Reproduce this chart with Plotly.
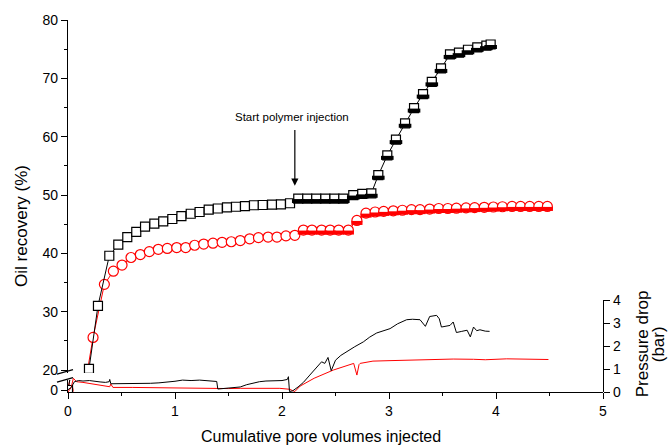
import plotly.graph_objects as go

# ---------------- data ----------------
# Oil recovery, case A (black squares)
rec_a_x = [0.0, 0.196, 0.28, 0.386, 0.47, 0.554, 0.638, 0.72, 0.807, 0.89, 0.975, 1.06, 1.147,
           1.23, 1.315, 1.40, 1.486, 1.57, 1.654, 1.738, 1.82, 1.907, 1.99, 2.075,
           2.152, 2.236, 2.32, 2.405, 2.49, 2.573, 2.666, 2.75, 2.835, 2.9, 2.984, 3.065,
           3.15, 3.234, 3.318, 3.40, 3.486, 3.57, 3.654, 3.738, 3.825, 3.91, 3.95]
rec_a_y = [0.0, 20.2, 31.0, 39.6, 41.5, 42.8, 43.7, 44.6, 45.1, 45.5, 45.9, 46.4, 46.8,
           47.1, 47.5, 47.7, 47.9, 48.0, 48.1, 48.25, 48.3, 48.35, 48.4, 48.6,
           49.4, 49.4, 49.4, 49.4, 49.4, 49.4, 50.0, 50.2, 50.3, 53.4, 56.8, 59.5,
           62.3, 64.9, 67.3, 69.4, 71.7, 74.1, 74.4, 74.9, 75.3, 75.6, 75.8]

# Oil recovery, case B (red circles)
rec_b_x = [0.0, 0.234, 0.34, 0.424, 0.505, 0.589, 0.676, 0.76, 0.844, 0.928, 1.016, 1.1, 1.184,
           1.268, 1.355, 1.44, 1.526, 1.61, 1.698, 1.78, 1.87, 1.953, 2.037, 2.12,
           2.2, 2.28, 2.37, 2.45, 2.53, 2.62, 2.70, 2.785, 2.87, 2.95, 3.04, 3.125, 3.21,
           3.29, 3.38, 3.465, 3.55, 3.63, 3.72, 3.80, 3.89, 3.975, 4.06, 4.15, 4.23,
           4.315, 4.40, 4.48]
rec_b_y = [0.0, 25.6, 34.7, 36.95, 38.0, 39.3, 39.8, 40.3, 40.7, 40.85, 41.0, 41.0, 41.4,
           41.6, 41.75, 41.9, 42.0, 42.2, 42.5, 42.7, 42.8, 42.8, 43.0, 43.1,
           44.0, 44.0, 44.0, 44.0, 44.0, 44.0, 45.65, 46.9, 47.1, 47.2, 47.3, 47.4, 47.5,
           47.5, 47.6, 47.7, 47.7, 47.75, 47.8, 47.85, 47.9, 47.95, 48.0, 48.05, 48.05,
           48.05, 48.05, 48.05]

polymer_start = 2.13

# Pressure drop, case A (black line)
dp_a_x = [0.0, 0.03, 0.06, 0.1, 0.14, 0.2, 0.3, 0.35, 0.385, 0.39, 0.4, 0.5, 0.61, 0.7, 0.77,
          0.85, 0.93, 1.0, 1.07, 1.15, 1.23, 1.3, 1.39, 1.40, 1.47, 1.54, 1.61, 1.67, 1.73,
          1.79, 1.85, 1.92, 2.0, 2.05, 2.06, 2.07, 2.1, 2.15, 2.2, 2.26, 2.32, 2.37, 2.40,
          2.43, 2.46, 2.5, 2.55, 2.6, 2.68, 2.76, 2.82, 2.885, 2.95, 3.01, 3.08, 3.165,
          3.22, 3.29, 3.34, 3.38, 3.445, 3.47, 3.49, 3.53, 3.57, 3.6, 3.63, 3.68, 3.73,
          3.76, 3.79, 3.82, 3.85, 3.9, 3.94]
dp_a_y = [0.1, 0.2, 0.45, 0.5, 0.48, 0.5, 0.44, 0.42, 0.45, 0.55, 0.36, 0.36, 0.35, 0.37, 0.38,
          0.4, 0.42, 0.47, 0.52, 0.5, 0.52, 0.48, 0.46, 0.13, 0.15, 0.18, 0.22, 0.32, 0.4,
          0.45, 0.48, 0.49, 0.5, 0.55, 0.67, 0.02, 0.05, 0.22, 0.42, 0.74, 1.05, 1.32, 1.25,
          1.51, 0.93, 1.39, 1.6, 1.75, 1.98, 2.19, 2.4, 2.58, 2.68, 2.77, 2.98, 3.16,
          3.18, 3.16, 2.87, 3.3, 3.35, 3.2, 2.84, 2.88, 2.91, 3.06, 2.6, 2.65, 2.7,
          2.41, 2.84, 2.68, 2.72, 2.66, 2.65]

# Pressure drop, case B (red line)
dp_b_x = [0.0, 0.03, 0.05, 0.08, 0.14, 0.2, 0.3, 0.39, 0.4, 0.42, 0.6, 0.77, 0.9, 1.07, 1.2,
          1.39, 1.5, 1.61, 1.8, 1.98, 2.07, 2.12, 2.17, 2.3, 2.48, 2.6, 2.67, 2.7, 2.72,
          2.73, 2.85, 3.0, 3.17, 3.3, 3.48, 3.6, 3.79, 3.9, 4.1, 4.3, 4.49]
dp_b_y = [0.0, 0.2, 0.6, 0.45, 0.42, 0.38, 0.3, 0.23, 0.35, 0.2, 0.2, 0.19, 0.17, 0.16, 0.15,
          0.13, 0.15, 0.16, 0.16, 0.16, 0.12, 0.02, 0.26, 0.6, 0.96, 1.15, 1.25, 0.74, 1.2,
          1.25, 1.35, 1.37, 1.39, 1.42, 1.43, 1.44, 1.43, 1.41, 1.45, 1.43, 1.42]

x_ticks = [0, 1, 2, 3, 4, 5]
rec_ticks = [20, 30, 40, 50, 60, 70, 80]
dp_ticks = [0, 1, 2, 3, 4]

# ---------------- geometry helpers ----------------
W, H = 669, 447
ML, MR, MT, MB = 68, 66, 18, 55
PW, PH = W - ML - MR, H - MT - MB
def px(xp):
    return (xp - ML) / PW
def py(yp):
    return (H - MB - yp) / PH

FONT = "Liberation Sans, Arial, sans-serif"
up_bottom_px = 373
up_scale = (370 - 18) / 60.0          # px per % on upper segment
up_lo = 20 - (up_bottom_px - 370) / up_scale
low_top_px = 380
low_lo = -2 / up_scale
low_hi = (392 - 2 - low_top_px) / up_scale

half_off = 2.5 / up_scale             # offset for half-filled marker look

fig = go.Figure()

# pressure lines
fig.add_trace(go.Scatter(x=dp_b_x, y=dp_b_y, mode="lines", line=dict(color="red", width=1),
                         xaxis="x", yaxis="y3", hoverinfo="skip", showlegend=False))
fig.add_trace(go.Scatter(x=dp_a_x, y=dp_a_y, mode="lines", line=dict(color="black", width=1),
                         xaxis="x", yaxis="y3", hoverinfo="skip", showlegend=False))

# recovery curves (upper and lower segments)
for ax in ["y", "y2"]:
    fig.add_trace(go.Scatter(x=rec_b_x, y=rec_b_y, mode="lines+markers",
                             line=dict(color="red", width=1),
                             marker=dict(symbol="circle", size=10, color="white",
                                         line=dict(color="red", width=1.2)),
                             xaxis="x", yaxis=ax, showlegend=False))
    fig.add_trace(go.Scatter(x=rec_a_x, y=rec_a_y, mode="lines+markers",
                             line=dict(color="black", width=1),
                             marker=dict(symbol="square", size=9, color="white",
                                         line=dict(color="black", width=1.2)),
                             xaxis="x", yaxis=ax, showlegend=False))

# half-filled look for points after polymer start
bx = [x for x in rec_b_x if x > polymer_start]
by = [y - half_off for x, y in zip(rec_b_x, rec_b_y) if x > polymer_start]
fig.add_trace(go.Scatter(x=bx, y=by, mode="markers",
                         marker=dict(symbol="line-ew", size=8, color="red",
                                     line=dict(color="red", width=4)),
                         xaxis="x", yaxis="y", hoverinfo="skip", showlegend=False))
ax_ = [x for x in rec_a_x if x > polymer_start]
ay_ = [y - half_off for x, y in zip(rec_a_x, rec_a_y) if x > polymer_start]
fig.add_trace(go.Scatter(x=ax_, y=ay_, mode="markers",
                         marker=dict(symbol="line-ew", size=9, color="black",
                                     line=dict(color="black", width=4)),
                         xaxis="x", yaxis="y", hoverinfo="skip", showlegend=False))

tickfont = dict(family=FONT, size=14, color="black")
common = dict(showline=True, linecolor="black", linewidth=1.3, ticks="outside",
              tickcolor="black", tickwidth=1.3, ticklen=6, showgrid=False,
              zeroline=False, tickfont=tickfont)

fig.update_layout(
    width=W, height=H,
    margin=dict(l=ML, r=MR, t=MT, b=MB),
    paper_bgcolor="white", plot_bgcolor="rgba(0,0,0,0)",
    font=dict(family=FONT, color="black"),
    xaxis=dict(range=[0, 5], domain=[0, 1], anchor="y2", tickvals=x_ticks,
               minor=dict(dtick=0.5, ticks="outside", ticklen=3, tickcolor="black",
                          tickwidth=1.3, showgrid=False),
               **common),
    yaxis=dict(range=[up_lo, 80], domain=[py(up_bottom_px), 1], anchor="x",
               tickvals=rec_ticks,
               minor=dict(dtick=5, tick0=0, ticks="outside", ticklen=3, tickcolor="black",
                          tickwidth=1.3, showgrid=False),
               **common),
    yaxis2=dict(range=[low_lo, low_hi], domain=[0, py(low_top_px)], anchor="x",
                tickvals=[0], **common),
    yaxis3=dict(range=[0, 4], domain=[0, py(300)], anchor="x", side="right",
                tickvals=dp_ticks, **common),
)

# axis break marks
for yb in [372, 380]:
    fig.add_shape(type="line", xref="paper", yref="paper",
                  x0=px(57), y0=py(yb + 2), x1=px(73), y1=py(yb - 2.5),
                  line=dict(color="black", width=1.3))

# titles
fig.add_annotation(text="Oil recovery (%)", xref="paper", yref="paper",
                   x=px(22), y=py(225), textangle=-90, showarrow=False,
                   xanchor="center", yanchor="middle",
                   font=dict(family=FONT, size=17, color="black"))
fig.add_annotation(text="Pressure drop", xref="paper", yref="paper",
                   x=px(642), y=py(344), textangle=-90, showarrow=False,
                   xanchor="center", yanchor="middle",
                   font=dict(family=FONT, size=17, color="black"))
fig.add_annotation(text="(bar)", xref="paper", yref="paper",
                   x=px(658), y=py(344), textangle=-90, showarrow=False,
                   xanchor="center", yanchor="middle",
                   font=dict(family=FONT, size=17, color="black"))
fig.add_annotation(text="Cumulative pore volumes injected", xref="paper", yref="paper",
                   x=px(321), y=py(437), showarrow=False,
                   xanchor="center", yanchor="middle",
                   font=dict(family=FONT, size=16, color="black"))

# polymer injection marker
fig.add_annotation(text="", x=2.12, y=51.6, xref="x", yref="y",
                   ax=2.12, ay=61.4, axref="x", ayref="y",
                   showarrow=True, arrowhead=2, arrowsize=1.2, arrowwidth=1.2,
                   arrowcolor="black", standoff=0)
fig.add_annotation(text="Start polymer injection", x=2.09, y=63.3, xref="x", yref="y",
                   showarrow=False, font=dict(family=FONT, size=11.5, color="black"))

fig.write_html("out.html")
